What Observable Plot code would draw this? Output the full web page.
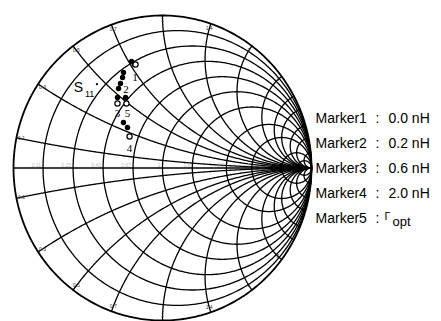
<!DOCTYPE html>
<html><head><meta charset="utf-8">
<script src="https://cdn.jsdelivr.net/npm/d3@7"></script>
<script src="https://cdn.jsdelivr.net/npm/@observablehq/plot@0.6"></script>
<style>body{margin:0;background:#fff}</style>
</head><body><div id="chart"></div>
<script>
// Smith chart grid values
const resistanceValues = [0.11, 0.25, 0.43, 0.67, 1, 1.5, 2.5, 4, 9, 20];
const reactanceValues = [0.1, 0.3, 0.5, 0.7, 1, 1.4, 2, 3, 4, 5, 7, 10, 20];
const rimLabelValues = [0.1, 0.3, 0.5, 0.7, 1, 1.4, 2, 3];

// S11* measured trace (reflection coefficient, real / imaginary)
const traceRe = [-0.208, -0.188, -0.262, -0.268, -0.282, -0.295, -0.302, -0.248, -0.262, -0.235];
const traceIm = [0.698, 0.679, 0.626, 0.593, 0.554, 0.521, 0.462, 0.462, 0.298, 0.266];
// marker symbols
const markerRe = [-0.181, -0.302, -0.242, -0.221];
const markerIm = [0.679, 0.423, 0.423, 0.207];
// marker number labels
const markerNames = ["1", "2", "3", "5", "4"];
const markerLabelRe = [-0.185, -0.245, -0.302, -0.235, -0.221];
const markerLabelIm = [0.593, 0.515, 0.357, 0.357, 0.128];

// legend
const legendNames = ["Marker1", "Marker2", "Marker3", "Marker4", "Marker5"];
const legendValues = ["0.0 nH", "0.2 nH", "0.6 nH", "2.0 nH", ""];

// ---- geometry from grid values (Smith transform) ----
const grid = [];
resistanceValues.forEach((r, i) => {
  const c = r / (1 + r), rad = 1 / (1 + r);
  for (let k = 0; k <= 360; k++) {
    const a = k * Math.PI / 180;
    grid.push({gx: c + rad * Math.cos(a), gy: rad * Math.sin(a), id: "r" + i});
  }
});
reactanceValues.forEach((x, i) => {
  [1, -1].forEach(s => {
    const xs = x * s;
    const cx = 1, cy = 1 / xs, rad = 1 / x;
    const g0x = (x * x - 1) / (x * x + 1), g0y = 2 * xs / (x * x + 1);
    let a0 = Math.atan2(g0y - cy, g0x - cx);
    let a1 = Math.atan2(-cy, 0);
    let d = a1 - a0;
    while (d > Math.PI) d -= 2 * Math.PI;
    while (d < -Math.PI) d += 2 * Math.PI;
    for (let k = 0; k <= 300; k++) {
      const a = a0 + d * k / 300;
      grid.push({gx: cx + rad * Math.cos(a), gy: cy + rad * Math.sin(a), id: "x" + i + "_" + s});
    }
  });
});
const rim = d3.range(0, 361).map(k => ({gx: Math.cos(k * Math.PI / 180), gy: Math.sin(k * Math.PI / 180)}));

const rimLabels = [];
rimLabelValues.forEach(x => [1, -1].forEach(s => {
  const gx = (x * x - 1) / (x * x + 1), gy = 2 * x * s / (x * x + 1);
  rimLabels.push({gx: gx * 0.965, gy: gy * 0.965, t: String(x)});
}));
const axisLabels = resistanceValues.slice(0, 8).map(r => ({gx: (r - 1) / (r + 1), gy: 0.02, t: String(r)}));

const trace = traceRe.map((v, i) => ({gx: v, gy: traceIm[i]}));
const markers = markerRe.map((v, i) => ({gx: v, gy: markerIm[i]}));
const mLabels = markerNames.map((t, i) => ({gx: markerLabelRe[i], gy: markerLabelIm[i], t}));

const legendX = 1.027;
const legendRows = legendNames.map((n, i) => ({gx: legendX, gy: 0.325 - 0.164 * i, n, v: legendValues[i]}));

const font = "'Liberation Sans', Arial, Helvetica, sans-serif";

const chart = Plot.plot({
  width: 441, height: 321,
  marginLeft: 13, marginRight: 130, marginTop: 15, marginBottom: 1,
  x: {domain: [-1, 1], axis: null},
  y: {domain: [-1, 1], axis: null},
  style: {background: "white", fontFamily: font, color: "black", overflow: "visible"},
  marks: [
    Plot.line(grid, {x: "gx", y: "gy", z: "id", stroke: "black", strokeWidth: 1.3}),
    Plot.ruleY([0], {x1: -1, x2: 1, stroke: "black", strokeWidth: 1.3}),
    Plot.line(rim, {x: "gx", y: "gy", stroke: "black", strokeWidth: 1.8}),
    Plot.text(axisLabels, {x: "gx", y: "gy", text: "t", fontSize: 5, fill: "#bbb", textAnchor: "end", dx: -2}),
    Plot.text(rimLabels, {x: "gx", y: "gy", text: "t", fontSize: 5, fill: "#333"}),
    Plot.dot(trace, {x: "gx", y: "gy", r: 2.7, fill: "black", stroke: "none"}),
    Plot.dot(markers, {x: "gx", y: "gy", r: 2.6, fill: "white", stroke: "black", strokeWidth: 1.2}),
    Plot.text(mLabels, {x: "gx", y: "gy", text: "t", fontSize: 11, fontFamily: "'Liberation Serif', serif", fill: "black"}),
    // S11* annotation
    Plot.text(["S"], {x: -0.595, y: 0.525, text: d => d, fontSize: 14, textAnchor: "start"}),
    Plot.text(["11"], {x: -0.52, y: 0.482, text: d => d, fontSize: 9, textAnchor: "start"}),
    Plot.dot([0], {x: -0.44, y: 0.55, r: 1.1, fill: "black"}),
    // legend
    Plot.text(legendRows, {x: "gx", y: "gy", text: "n", fontSize: 14, textAnchor: "start"}),
    Plot.text(legendRows, {x: "gx", y: "gy", text: () => ":", fontSize: 14, textAnchor: "start", dx: 60}),
    Plot.text(legendRows, {x: "gx", y: "gy", text: "v", fontSize: 14, textAnchor: "start", dx: 73}),
    Plot.text(["\u0393"], {x: legendX, y: -0.331, text: d => d, fontSize: 11, textAnchor: "start", dx: 69, dy: -2}),
    Plot.text(["opt"], {x: legendX, y: -0.331, text: d => d, fontSize: 13, textAnchor: "start", dx: 77, dy: 3})
  ]
});
document.getElementById("chart").appendChild(chart);
</script>
</body></html>
